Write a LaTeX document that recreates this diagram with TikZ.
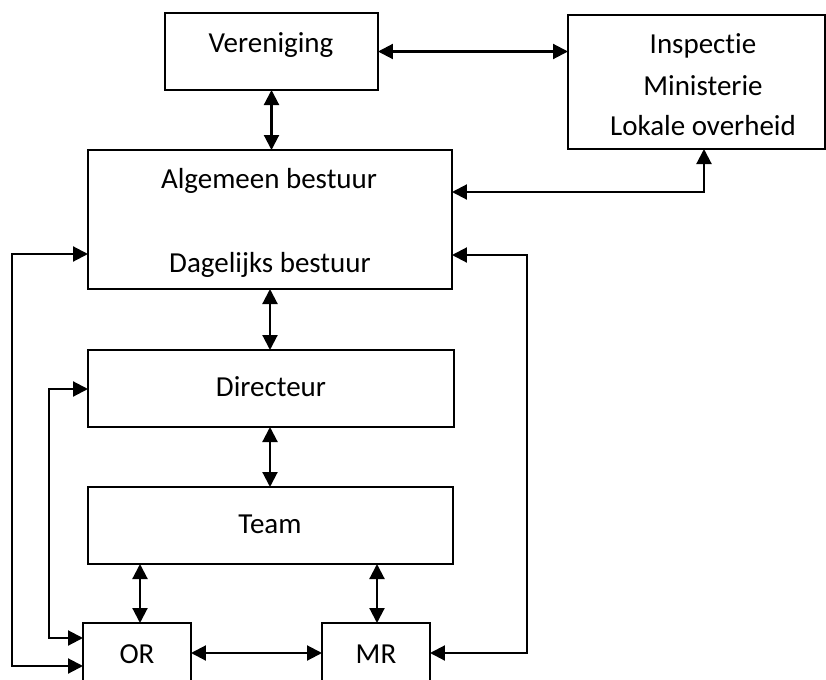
\documentclass[tikz,border=0pt]{standalone}
\usepackage{fontspec}
\setmainfont{Carlito}[Ligatures=CommonOff]
\usetikzlibrary{arrows.meta,positioning,fit}
\tikzset{
  box/.style={draw,line width=1.2pt,inner sep=0pt,outer sep=0pt},
  txt/.style={anchor=base,inner sep=0pt,font=\fontsize{16.5}{20}\selectfont},
  link/.style={line width=1.2pt,{Triangle[length=3mm,width=3mm]}-{Triangle[length=3mm,width=3mm]}},
}
\begin{document}
\begin{tikzpicture}[x=0.02cm,y=-0.02cm]
  \useasboundingbox[fill=white] (0,0) rectangle (826,680);
  % boxes
  \node[box,fit={(165,13) (378,90)}] (ver) {};
  \node[box,fit={(568,15) (825,149)}] (insp) {};
  \node[box,fit={(88,150) (452,289)}] (alg) {};
  \node[box,fit={(88,350) (454,427)}] (dir) {};
  \node[box,fit={(88,487) (453,564)}] (team) {};
  \node[box,fit={(83,623) (191,700)}] (or) {};
  \node[box,fit={(322,623) (430,700)}] (mr) {};
  % texts
  \node[txt] (vertxt) at (271,52) {Vereniging};
  \node[txt] (insptxt) at (703,53) {Inspectie};
  \node[txt] (mintxt) at (703,95) {Ministerie};
  \node[txt] (loktxt) at (703,135) {Lokale overheid};
  \node[txt] (algtxt) at (269,188) {Algemeen bestuur};
  \node[txt] (dbtxt) at (270,272) {Dagelijks bestuur};
  \node[txt] (dirtxt) at (271,396) {Directeur};
  \node[txt] (teamtxt) at (270,533) {Team};
  \node[txt] (ortxt) at (137,663) {OR};
  \node[txt] (mrtxt) at (376,663) {MR};
  % connectors
  \draw[link] (ver.east) -- (insp.west |- ver.east);
  \draw[link] (ver.south) -- (alg.north -| ver.south);
  \draw[link] (insp.south -| 704,0) |- (alg.east |- 0,192);
  \draw[link] (alg.south -| 270,0) -- (dir.north -| 270,0);
  \draw[link] (dir.south -| 270,0) -- (team.north -| 270,0);
  \draw[link] (team.south -| 140,0) -- (or.north -| 140,0);
  \draw[link] (team.south -| 377,0) -- (mr.north -| 377,0);
  \draw[link] (or.east |- 0,653) -- (mr.west |- 0,653);
  % loops
  \draw[link] (alg.east |- 0,255) -| (527,400) |- (mr.east |- 0,653);
  \draw[link] (alg.west |- 0,254) -| (12,400) |- (or.west |- 0,666);
  \draw[link] (dir.west |- 0,389) -| (49,500) |- (or.west |- 0,638);
\end{tikzpicture}
\end{document}
